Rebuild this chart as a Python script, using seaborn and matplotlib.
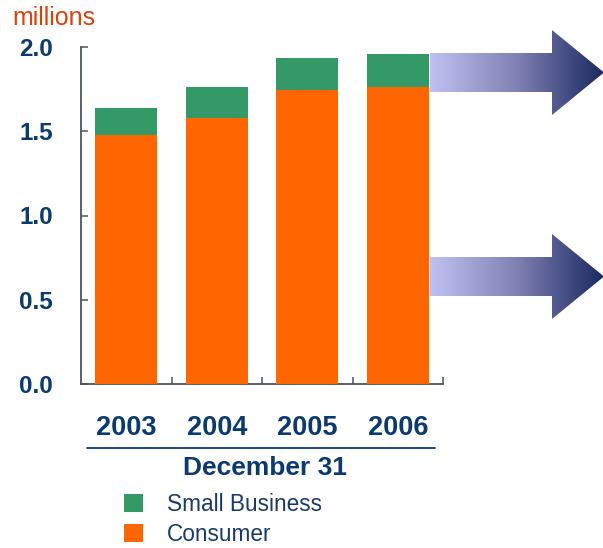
import numpy as np
import pandas as pd
import matplotlib
matplotlib.use("Agg")
import matplotlib.pyplot as plt
from matplotlib.patches import Patch, Polygon
from matplotlib.lines import Line2D
import seaborn as sns

years = ["2003", "2004", "2005", "2006"]
consumer = [1.48, 1.58, 1.745, 1.76]
small_business = [0.16, 0.18, 0.19, 0.20]
yticks = [0.0, 0.5, 1.0, 1.5, 2.0]
ytick_labels = ["0.0", "0.5", "1.0", "1.5", "2.0"]

ORANGE = "#FF6600"
GREEN = "#339966"
NAVY = "#0B3A6E"
SPINE = "#4A5560"

sns.set_style("white")
plt.rcParams["font.family"] = ["Liberation Sans", "DejaVu Sans"]

df = pd.DataFrame({"year": years, "consumer": consumer, "small": small_business})
df["total"] = df["consumer"] + df["small"]

W, H = 603, 548
fig = plt.figure(figsize=(W / 100, H / 100), dpi=100)
ax = fig.add_axes([81 / W, 1 - 384 / H, (443 - 81) / W, (384 - 47) / H])

sns.barplot(data=df, x="year", y="total", color=GREEN, width=0.685,
            saturation=1, linewidth=0, ax=ax, zorder=2)
sns.barplot(data=df, x="year", y="consumer", color=ORANGE, width=0.685,
            saturation=1, linewidth=0, ax=ax, zorder=3)

ax.set_xlim(-0.5, 3.5)
ax.set_ylim(0, 2.0)
ax.set_xlabel("")
ax.set_ylabel("")
for s in ["top", "right"]:
    ax.spines[s].set_visible(False)
for s in ["left", "bottom"]:
    ax.spines[s].set_color(SPINE)
    ax.spines[s].set_linewidth(1.3)

ax.set_yticks(yticks)
ax.set_yticklabels(ytick_labels)
ax.tick_params(axis="y", direction="in", length=5, width=1.1, color=SPINE,
               pad=20, labelsize=17.5, labelcolor=NAVY, left=True)
for t in ax.get_yticklabels():
    t.set_fontweight("bold")

ax.set_xticks(range(len(years)))
ax.set_xticklabels(years)
ax.tick_params(axis="x", which="major", length=0, pad=22, labelsize=19.5,
               labelcolor=NAVY)
for t in ax.get_xticklabels():
    t.set_fontweight("bold")
ax.set_xticks([0.5, 1.5, 2.5, 3.5], minor=True)
ax.tick_params(axis="x", which="minor", direction="in", length=5, width=1.1,
               color=SPINE, bottom=True)

# "millions" unit label
fig.text(12 / W, 1 - 25 / H, "millions", color="#D8420C", fontsize=18,
         ha="left", va="baseline")

# separator line and "December 31"
fig.add_artist(Line2D([87 / W, 435 / W], [1 - 448 / H, 1 - 448 / H],
                      color=NAVY, lw=1.3))
fig.text(265 / W, 1 - 468 / H, "December 31", color=NAVY, fontsize=19,
         fontweight="bold", ha="center", va="center")

# legend
handles = [Patch(facecolor=GREEN, edgecolor="none"),
           Patch(facecolor=ORANGE, edgecolor="none")]
leg = fig.legend(handles, ["Small Business", "Consumer"], loc="upper left",
                 bbox_to_anchor=(124 / W, 1 - 493 / H), frameon=False,
                 fontsize=16.3, handlelength=0.85, handleheight=0.85,
                 handletextpad=1.05, labelspacing=0.3, borderpad=0,
                 borderaxespad=0)
for t in leg.get_texts():
    t.set_color("#1A3A6A")

# gradient arrows (decoration)
ov = fig.add_axes([0, 0, 1, 1], zorder=5)
ov.set_xlim(0, W)
ov.set_ylim(H, 0)
ov.axis("off")
ov.patch.set_alpha(0)
cmap = matplotlib.colors.LinearSegmentedColormap.from_list(
    "arr", ["#C0C0F2", "#8080B4", "#1A2A60"])
grad = np.linspace(0, 1, 256)[None, :]
for yc in (72.5, 276.5):
    x0, xh, xt = 430, 552, 604
    half_s, half_h = 19.5, 42.5
    pts = [(x0, yc - half_s), (xh, yc - half_s), (xh, yc - half_h), (xt, yc),
           (xh, yc + half_h), (xh, yc + half_s), (x0, yc + half_s)]
    poly = Polygon(pts, closed=True, facecolor="none", edgecolor="none",
                   transform=ov.transData)
    ov.add_patch(poly)
    im = ov.imshow(grad, cmap=cmap, aspect="auto",
                   extent=[x0, xt, yc + half_h, yc - half_h], zorder=6)
    im.set_clip_path(poly)
ov.set_xlim(0, W)
ov.set_ylim(H, 0)

fig.savefig("out.png", dpi=100, facecolor="white")
